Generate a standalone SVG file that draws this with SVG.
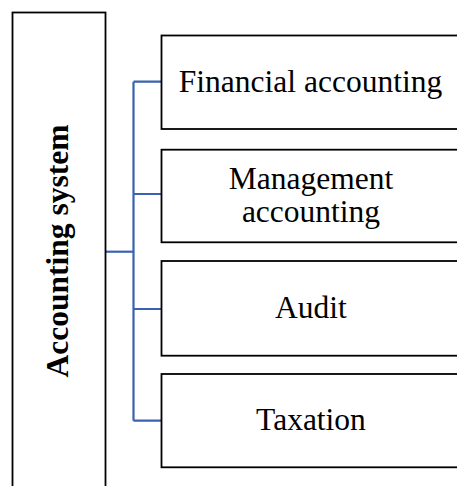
<svg xmlns="http://www.w3.org/2000/svg" width="457" height="486" viewBox="0 0 457 486">
<style>
.box{fill:#fff;stroke:#000;stroke-width:1.8}
.t{font-family:"Liberation Serif","Times New Roman",serif;font-size:31.5px;fill:#000;text-anchor:middle}
.b{font-weight:bold}
.c{fill:none;stroke:#3A62AE;stroke-width:2.2}
</style>
<rect width="457" height="486" fill="#fff"/>
<g id="connectors">
<path class="c" d="M133.5,81.7 V420.7 M133.5,81.7 H161.5 M133.5,194 H161.5 M133.5,309 H161.5 M133.5,420.7 H161.5"/>
<path class="c" d="M106,251.7 H133.5" stroke="#2F4F8F"/>
</g>
<g id="n0">
<rect class="box" x="12.5" y="12.5" width="93" height="480"/>
<text class="t b" transform="translate(67.5,251) rotate(-90)">Accounting system</text>
</g>
<g id="n1">
<rect class="box" x="161.5" y="35.5" width="300" height="93.5"/>
<text class="t" x="310.5" y="92">Financial accounting</text>
</g>
<g id="n2">
<rect class="box" x="161.5" y="149.7" width="300" height="92.6"/>
<text class="t" x="311" y="189">Management</text>
<text class="t" x="311" y="222">accounting</text>
</g>
<g id="n3">
<rect class="box" x="161.5" y="261" width="300" height="94.7"/>
<text class="t" x="311" y="318">Audit</text>
</g>
<g id="n4">
<rect class="box" x="161.5" y="374" width="300" height="93.3"/>
<text class="t" x="311" y="430">Taxation</text>
</g>
</svg>
